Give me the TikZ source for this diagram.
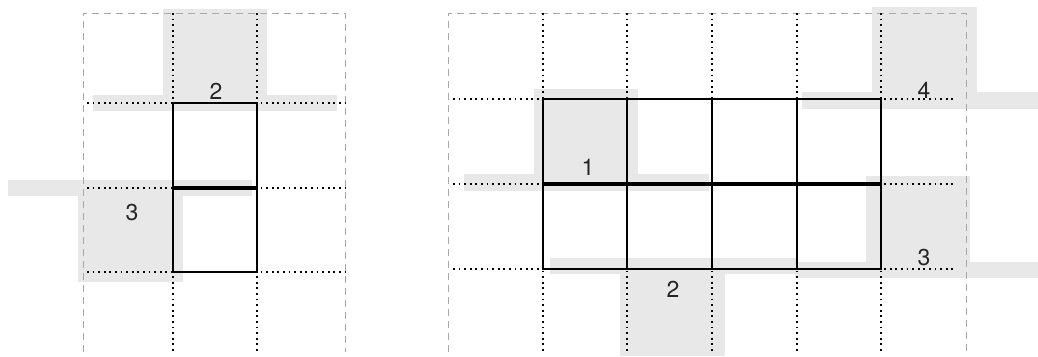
\documentclass[tikz,border=0pt]{standalone}
\usepackage{fontspec}
\setmainfont{TeX Gyre Heros}
\definecolor{shade}{HTML}{E8E8E8}
\definecolor{frame}{HTML}{A8A8A8}
\begin{document}
\begin{tikzpicture}[x=1pt,y=-1pt,
  region/.style={fill=shade,draw=none},
  outline/.style={draw=frame,line width=1pt,dash pattern=on 7pt off 5pt},
  gridline/.style={draw=black,line width=1.7pt,dash pattern=on 1.7pt off 3.9pt},
  cellline/.style={draw=black,line width=2.2pt},
  midline/.style={draw=black,line width=3.2pt},
  num/.style={font=\fontsize{23}{23}\selectfont,inner sep=0pt,text=black!85}]
\useasboundingbox (0,0) rectangle (1038,356);
% ---------- left figure: gray regions
\fill[region] (163,9) rectangle (267,103);
\fill[region] (93,95) rectangle (337,111);
\fill[region] (8,180) rectangle (252,196);
\fill[region] (78,180) rectangle (183,282);
% ---------- right figure: gray regions
\fill[region] (534,89) rectangle (638,184);
\fill[region] (464,174) rectangle (709,191);
\fill[region] (550,258) rectangle (797,274);
\fill[region] (620,258) rectangle (725,356);
\fill[region] (866,176) rectangle (970,278);
\fill[region] (795,262) rectangle (1038,278);
\fill[region] (872,7) rectangle (977,101);
\fill[region] (802,92) rectangle (1038,109);
% ---------- dashed outlines
\draw[outline] (83,352) -- (83,13) -- (345,13) -- (345,352);
\draw[outline] (448,352) -- (448,13) -- (966,13) -- (966,352);
% ---------- dotted grid, left
\foreach \x in {173,257} \draw[gridline] (\x,13) -- (\x,352);
\foreach \y in {103,188,272} \draw[gridline] (87,\y) -- (345,\y);
% ---------- dotted grid, right
\foreach \x in {543,627,712,797,881} \draw[gridline] (\x,13) -- (\x,352);
\foreach \y in {99,184,269} \draw[gridline] (453,\y) -- (956,\y);
% ---------- bold cells, left
\draw[cellline] (173,103) rectangle (257,272);
\draw[midline] (173,188) -- (257,188);
% ---------- bold cells, right
\draw[cellline] (543,99) rectangle (881,269);
\foreach \x in {627,712,797} \draw[cellline] (\x,99) -- (\x,269);
\draw[midline] (543,184) -- (881,184);
% ---------- labels
\node[num] (l2) at (216,91) {2};
\node[num] (l3) at (132,213) {3};
\node[num] (r1) at (588,167) {1};
\node[num] (r2) at (673,289) {2};
\node[num] (r3) at (924,258) {3};
\node[num] (r4) at (924,90) {4};
\end{tikzpicture}
\end{document}
